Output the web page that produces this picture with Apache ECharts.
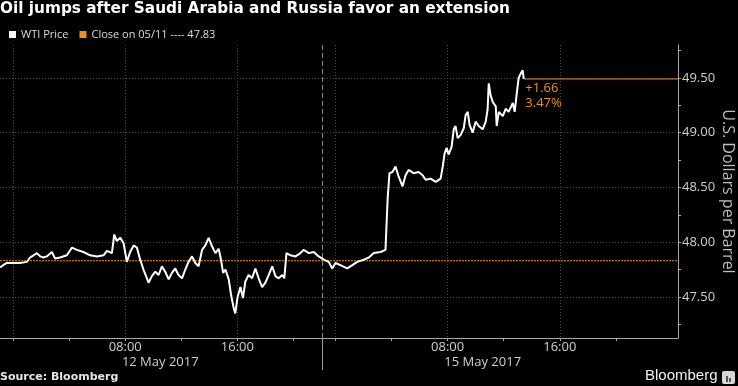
<!DOCTYPE html>
<html><head><meta charset="utf-8">
<script src="https://cdn.jsdelivr.net/npm/echarts@6/dist/echarts.min.js"></script>
<style>html,body{margin:0;padding:0;background:#000}#c{width:738px;height:386px}</style>
</head><body><div id="c"></div>
<script>
// ---------- data ----------
const titleText = "Oil jumps after Saudi Arabia and Russia favor an extension";
const sourceText = "Source: Bloomberg";
const brandText = "Bloomberg";
const seriesName = "WTI Price";
const closeDate = "05/11";
const closePrice = 47.83;
const yAxisName = "U.S. Dollars per Barrel";
const yLabelValues = [47.5, 48.0, 48.5, 49.0, 49.5];
const yMinorValues = [47.25, 47.5, 47.75, 48.0, 48.25, 48.5, 48.75, 49.0, 49.25, 49.5, 49.75];
const yRange = [47.125, 49.80];
const viewRange = ["05/11 23:04", "05/16 00:26"];
const sessionBreak = "05/12 22:04";
const xLabelTimes = ["05/12 08:00", "05/12 16:00", "05/15 08:00", "05/15 16:00"];
const xGridTimes = ["05/12 00:00", "05/12 08:00", "05/12 16:00", "05/15 00:00", "05/15 08:00", "05/15 16:00"];
const xTickTimes = ["05/12 00:00", "05/12 04:00", "05/12 08:00", "05/12 12:00", "05/12 16:00", "05/12 20:00",
                    "05/15 00:00", "05/15 04:00", "05/15 08:00", "05/15 12:00", "05/15 16:00", "05/15 20:00"];
const dateLabels = ["12 May 2017", "15 May 2017"];
const dateLabelTimes = ["05/12 10:30", "05/15 10:30"];

const times = [
"05/11 23:04","05/11 23:18","05/11 23:33","05/12 00:00","05/12 00:30","05/12 00:59","05/12 01:13","05/12 01:27",
"05/12 01:42","05/12 01:56","05/12 02:10","05/12 02:24","05/12 02:46","05/12 03:00","05/12 03:21","05/12 03:50",
"05/12 04:12","05/12 04:33","05/12 05:01","05/12 05:30","05/12 05:59","05/12 06:27","05/12 06:42","05/12 07:03",
"05/12 07:13","05/12 07:24","05/12 07:39","05/12 07:53","05/12 08:07","05/12 08:21","05/12 08:36","05/12 08:50",
"05/12 09:04","05/12 09:18","05/12 09:33","05/12 09:40","05/12 09:54","05/12 10:09","05/12 10:23","05/12 10:37",
"05/12 10:51","05/12 11:06","05/12 11:20","05/12 11:34","05/12 11:48","05/12 12:03","05/12 12:17","05/12 12:31",
"05/12 12:46","05/12 13:00","05/12 13:14","05/12 13:29","05/12 13:43","05/12 13:57","05/12 14:12","05/12 14:26",
"05/12 14:40","05/12 14:50","05/12 14:59","05/12 15:09","05/12 15:23","05/12 15:33","05/12 15:44","05/12 15:51",
"05/12 16:01","05/12 16:13","05/12 16:24","05/12 16:34","05/12 16:48","05/12 17:03","05/12 17:17","05/12 17:31",
"05/12 17:46","05/12 18:00","05/12 18:14","05/12 18:29","05/12 18:43","05/12 18:57","05/12 19:12","05/12 19:21",
"05/12 19:30","05/12 19:47","05/12 20:09","05/12 20:30","05/12 20:44","05/12 21:06","05/12 21:27","05/12 21:48",
"05/14 23:10","05/14 23:31","05/14 23:46","05/15 00:00","05/15 00:21","05/15 00:50","05/15 01:12","05/15 01:33",
"05/15 02:01","05/15 02:23","05/15 02:44","05/15 03:13","05/15 03:34","05/15 03:43","05/15 03:47","05/15 03:51",
"05/15 04:04","05/15 04:17","05/15 04:30","05/15 04:47","05/15 05:00","05/15 05:13","05/15 05:34","05/15 05:56",
"05/15 06:13","05/15 06:26","05/15 06:47","05/15 07:09","05/15 07:30","05/15 07:39","05/15 07:47","05/15 07:56",
"05/15 08:04","05/15 08:17","05/15 08:26","05/15 08:34","05/15 08:43","05/15 08:56","05/15 09:09","05/15 09:17",
"05/15 09:26","05/15 09:34","05/15 09:47","05/15 10:00","05/15 10:13","05/15 10:30","05/15 10:43","05/15 10:51",
"05/15 10:56","05/15 11:04","05/15 11:13","05/15 11:26","05/15 11:30","05/15 11:39","05/15 11:56","05/15 12:09",
"05/15 12:21","05/15 12:39","05/15 12:47","05/15 12:56","05/15 13:04","05/15 13:13","05/15 13:21","05/15 13:26"
];
const prices = [
47.77,47.79,47.81,47.81,47.81,47.82,47.86,47.88,
47.90,47.87,47.86,47.87,47.91,47.85,47.86,47.88,
47.95,47.93,47.91,47.88,47.87,47.88,47.92,47.90,
48.07,48.01,48.04,47.99,47.82,47.91,47.97,47.95,
47.84,47.75,47.67,47.63,47.69,47.73,47.70,47.78,
47.73,47.66,47.72,47.76,47.70,47.67,47.75,47.82,
47.87,47.81,47.78,47.93,47.97,48.04,47.96,47.90,
47.94,47.84,47.72,47.75,47.66,47.52,47.40,47.35,
47.50,47.59,47.49,47.64,47.70,47.67,47.76,47.67,
47.59,47.63,47.70,47.78,47.69,47.67,47.70,47.67,
47.90,47.88,47.87,47.90,47.93,47.90,47.91,47.87,
47.84,47.82,47.76,47.81,47.79,47.76,47.79,47.82,
47.84,47.86,47.90,47.91,47.93,48.39,48.51,48.63,
48.64,48.69,48.60,48.51,48.61,48.66,48.63,48.64,
48.61,48.57,48.58,48.55,48.58,48.69,48.81,48.86,
48.80,48.87,49.03,49.06,48.95,48.98,49.04,49.16,
49.19,49.07,49.00,49.10,49.06,49.03,49.10,49.21,
49.45,49.34,49.28,49.24,49.06,49.19,49.15,49.22,
49.19,49.27,49.19,49.36,49.50,49.54,49.57,49.49
];

// ---------- helpers ----------
// trading-session axis: weekend gap removed (15 May 00:00 sits 23h after 12 May 00:00)
const dayOffset = {"05/11": -24, "05/12": 0, "05/14": -1, "05/15": 23, "05/16": 47};
function toAxis(s) {
  const [d, t] = s.split(' ');
  const [hh, mm] = t.split(':').map(Number);
  return dayOffset[d] + hh + mm / 60;
}
const X_MIN = toAxis(viewRange[0]), X_MAX = toAxis(viewRange[1]);
const BREAK = toAxis(sessionBreak);
const near = (a, b) => Math.abs(a - b) < 1e-6;
const xLabelVals = xLabelTimes.map(toAxis);
const dateVals = dateLabelTimes.map(toAxis);
const seriesData = times.map((t, i) => [toAxis(t), prices[i]]);
const last = seriesData[seriesData.length - 1];
const change = last[1] - closePrice;
const pct = change / closePrice * 100;
const closeName = `Close on ${closeDate} ---- ${closePrice.toFixed(2)}`;
const closeData = [[X_MIN, closePrice], [X_MAX, closePrice]];
const lastLevelData = [[last[0], last[1]], [X_MAX, last[1]]];

const ORANGE = '#f0901a';
const AXIS = '#a8a8a8';
const GRID = '#4a4a4a';
const TXT = '#cfcfcf';

const xBase = {type: 'value', min: X_MIN, max: X_MAX, position: 'bottom', gridIndex: 0};
const yBase = {type: 'value', min: yRange[0], max: yRange[1], position: 'right', gridIndex: 0};

const chart = echarts.init(document.getElementById('c'), null, {renderer: 'canvas'});
chart.setOption({
  backgroundColor: '#000',
  animation: false,
  title: [
    {text: titleText, left: 0, top: 2, padding: 0,
     textStyle: {color: '#fff', fontSize: 15.3, fontWeight: 'bold', fontFamily: 'DejaVu Sans'}},
    {text: sourceText, left: 0, top: 372, padding: 0,
     textStyle: {color: '#e6e6e6', fontSize: 11, fontWeight: 'bold', fontFamily: 'DejaVu Sans'}},
    {text: brandText, left: 645, top: 368, padding: 0,
     textStyle: {color: '#f2f2f2', fontSize: 15, fontWeight: 'normal', fontFamily: 'Liberation Sans'}}
  ],
  graphic: [
    {type: 'rect', left: 722, top: 371, shape: {width: 13, height: 13, r: 2}, style: {fill: '#d8d8d8'}},
    {type: 'rect', left: 726, top: 376, shape: {width: 2, height: 6}, style: {fill: '#555'}},
    {type: 'rect', left: 729, top: 378, shape: {width: 2, height: 4}, style: {fill: '#555'}}
  ],
  legend: {
    left: 9, top: 29, padding: 0, itemWidth: 7, itemHeight: 7, itemGap: 11,
    data: [{name: seriesName, icon: 'rect'}, {name: closeName, icon: 'rect'}],
    textStyle: {color: '#dcdcdc', fontSize: 11, fontFamily: 'Open Sans'},
    selectedMode: false
  },
  grid: {left: 0, right: 60, top: 45, bottom: 48, containLabel: false, outerBoundsMode: 'none'},
  xAxis: [
    Object.assign({}, xBase, {
      axisLine: {show: true, onZero: false, lineStyle: {color: AXIS, width: 1}},
      axisTick: {show: true, customValues: xTickTimes.map(toAxis), length: 3, lineStyle: {color: AXIS}},
      axisLabel: {show: true, customValues: xLabelVals, margin: 3, color: TXT, fontSize: 13, fontFamily: 'Open Sans',
        formatter: v => { const i = xLabelVals.findIndex(x => near(x, v)); return i >= 0 ? xLabelTimes[i].split(' ')[1] : ''; }},
      splitLine: {show: false}
    }),
    Object.assign({}, xBase, {
      axisLine: {show: false, onZero: false},
      axisTick: {show: false, customValues: xGridTimes.map(toAxis)},
      axisLabel: {show: false},
      splitLine: {show: true, lineStyle: {color: GRID, type: [1, 2], width: 1}}
    }),
    Object.assign({}, xBase, {
      axisLine: {show: false, onZero: false},
      axisTick: {show: true, customValues: [BREAK], length: 32, lineStyle: {color: '#9a9a9a'}},
      axisLabel: {show: true, customValues: dateVals, margin: 18, color: TXT, fontSize: 13, fontFamily: 'Open Sans',
        formatter: v => { const i = dateVals.findIndex(x => near(x, v)); return i >= 0 ? dateLabels[i] : ''; }},
      splitLine: {show: false}
    })
  ],
  yAxis: [
    Object.assign({}, yBase, {
      axisLine: {show: true, onZero: false, lineStyle: {color: AXIS}},
      axisTick: {show: true, customValues: yMinorValues, length: 3, lineStyle: {color: AXIS}},
      axisLabel: {show: true, customValues: yLabelValues, margin: 4, color: TXT, fontSize: 13, fontFamily: 'Open Sans',
        formatter: v => v.toFixed(2)},
      splitLine: {show: false},
      name: yAxisName, nameLocation: 'middle', nameRotate: -90, nameGap: 42, nameMoveOverlap: false,
      nameTextStyle: {color: '#bdbdbd', fontSize: 16, fontFamily: 'Open Sans'}
    }),
    Object.assign({}, yBase, {
      axisLine: {show: false, onZero: false},
      axisTick: {show: false, customValues: yLabelValues},
      axisLabel: {show: false},
      splitLine: {show: true, lineStyle: {color: GRID, type: [1, 2], width: 1}}
    })
  ],
  series: [
    {
      name: closeName, type: 'line', data: closeData, xAxisIndex: 0, yAxisIndex: 0,
      showSymbol: false, symbol: 'none', silent: true, z: 3,
      itemStyle: {color: ORANGE}, lineStyle: {color: ORANGE, type: [2, 1], width: 1}
    },
    {
      name: 'lastLevel', type: 'line', data: lastLevelData, xAxisIndex: 0, yAxisIndex: 0,
      showSymbol: false, symbol: 'none', silent: true, z: 3,
      itemStyle: {color: ORANGE}, lineStyle: {color: ORANGE, type: 'solid', width: 1}
    },
    {
      name: seriesName, type: 'line', data: seriesData, xAxisIndex: 0, yAxisIndex: 0,
      showSymbol: false, symbol: 'none',
      itemStyle: {color: '#ffffff'}, lineStyle: {color: '#ffffff', width: 2},
      z: 5,
      markLine: {silent: true, symbol: ['none', 'none'], label: {show: false},
        data: [
          {xAxis: BREAK, lineStyle: {color: '#8a8a8a', type: [5, 3], width: 1}}
        ]},
      markPoint: {silent: true,
        data: [{coord: [last[0], last[1]], symbol: 'circle', symbolSize: 1, itemStyle: {color: 'rgba(0,0,0,0)'},
          label: {show: true, position: [2, 2], color: ORANGE, fontSize: 13, lineHeight: 15, fontFamily: 'Open Sans',
            formatter: () => (change >= 0 ? '+' : '') + change.toFixed(2) + '\n' + pct.toFixed(2) + '%'}}]}
    }
  ]
});
</script>
</body></html>
